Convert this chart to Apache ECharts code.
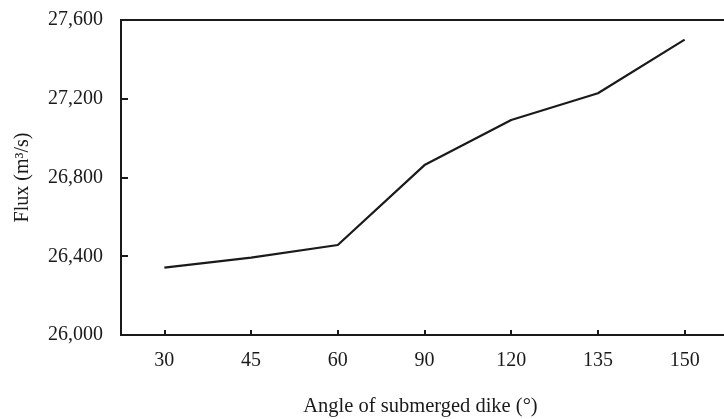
<!DOCTYPE html>
<html>
<head>
<meta charset="utf-8">
<script src="https://cdn.jsdelivr.net/npm/echarts@6/dist/echarts.min.js"></script>
<style>
  html, body { margin: 0; padding: 0; background: #fff; }
  #chart { width: 724px; height: 419px; }
</style>
</head>
<body>
<div id="chart"></div>
<script>
// Dike angle categories (degrees) and the resulting flux (m³/s)
const angles = ['30', '45', '60', '90', '120', '135', '150'];
const flux = [26342, 26393, 26457, 26863, 27092, 27228, 27500];
const yTicks = { min: 26000, max: 27600, step: 400 };

const FONT = '"Liberation Serif", "Times New Roman", serif';
const INK = '#1a1a1a';
const GRID = { left: 121, top: 20, width: 607, height: 315 };
const Y_TICK_LEN = 7;

const chart = echarts.init(document.getElementById('chart'), null, { renderer: 'canvas' });

chart.setOption({
  animation: false,
  backgroundColor: '#ffffff',
  grid: Object.assign({}, GRID, {
    containLabel: false,
    outerBoundsMode: 'none',
    show: true, borderColor: INK, borderWidth: 2, backgroundColor: 'transparent'
  }),
  xAxis: {
    type: 'category',
    data: angles,
    boundaryGap: true,
    name: 'Angle of submerged dike (°)',
    nameLocation: 'middle',
    nameGap: 61,
    nameTextStyle: { fontFamily: FONT, fontSize: 20.5, color: INK, padding: [0, 8, 0, 0] },
    axisLine: { lineStyle: { color: INK, width: 2 } },
    axisTick: { show: true, alignWithLabel: true, inside: true, length: 5, lineStyle: { color: INK, width: 2 } },
    axisLabel: { fontFamily: FONT, fontSize: 20, color: INK, margin: 16 },
    splitLine: { show: false }
  },
  yAxis: {
    type: 'value',
    min: yTicks.min, max: yTicks.max, interval: yTicks.step,
    name: 'Flux (m³/s)',
    nameLocation: 'middle',
    nameGap: 88,
    nameRotate: 90,
    nameTextStyle: { fontFamily: FONT, fontSize: 20, color: INK },
    axisLine: { show: true, lineStyle: { color: INK, width: 2 } },
    axisTick: { show: false },
    axisLabel: {
      fontFamily: FONT, fontSize: 20, color: INK, margin: 18,
      formatter: v => v.toLocaleString('en-US')
    },
    splitLine: { show: false }
  },
  series: [{
    type: 'line',
    data: flux,
    symbol: 'none',
    lineStyle: { color: INK, width: 2.2 }
  }]
});

// Inward-pointing ticks on the value axis, placed through the axis scale
const tickMarks = [];
for (let v = yTicks.min + yTicks.step; v < yTicks.max; v += yTicks.step) {
  const y = Math.round(chart.convertToPixel({ yAxisIndex: 0 }, v));
  tickMarks.push({
    type: 'line',
    shape: { x1: GRID.left, y1: y, x2: GRID.left + Y_TICK_LEN, y2: y },
    style: { stroke: INK, lineWidth: 2 },
    z: 10
  });
}
chart.setOption({ graphic: tickMarks });
</script>
</body>
</html>
